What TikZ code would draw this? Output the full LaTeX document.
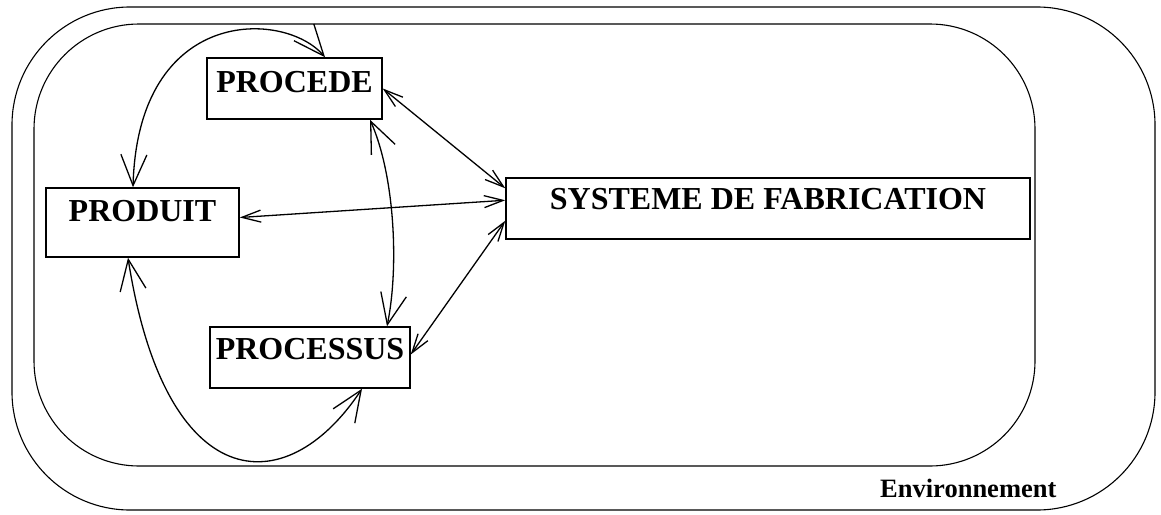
\documentclass[tikz,border=0pt]{standalone}
\usepackage{fontspec}
\setmainfont{Liberation Serif}
\usetikzlibrary{arrows.meta}
\begin{document}
\begin{tikzpicture}[x=1pt,y=-1pt,
  box/.style={draw,line width=1.5pt,inner xsep=0pt,inner ysep=0pt,align=center,
    font=\fontsize{32}{32}\selectfont\bfseries},
  bigtip/.style={{Straight Barb[length=31pt,width=26pt]}-{Straight Barb[length=31pt,width=26pt]},line width=1.3pt},
  smalltip/.style={{Straight Barb[length=19pt,width=12pt]}-{Straight Barb[length=19pt,width=12pt]},line width=1.3pt},
  frame/.style={draw,line width=1.1pt}]
\useasboundingbox (0,0) rectangle (1161,514);
% environment and system frames
\draw[frame,rounded corners=118pt] (12,7) rectangle (1155,510);
\draw[frame,rounded corners=105pt] (34,24) rectangle (1035,466);
% nodes
\node[box,minimum width=175pt,text height=34pt,text depth=27pt] (procede) at (294.5,88.5) {PROCEDE};
\node[box,minimum width=193pt,text height=33pt,text depth=36pt] (produit) at (142.5,222.5) {PRODUIT};
\node[box,minimum width=200pt,text height=32pt,text depth=29pt] (processus) at (310,357.5) {PROCESSUS};
\node[box,minimum width=524pt,text height=31pt,text depth=30pt] (systeme) at (768,208.5) {SYSTEME DE FABRICATION};
\node[anchor=base west,inner sep=0pt,font=\fontsize{26.5}{26.5}\selectfont\bfseries] (env) at (880,497) {Environnement};
% connectors
\draw[bigtip] ([xshift=-9.5pt]produit.north) .. controls (138,5) and (285,10) .. ([xshift=30.5pt]procede.north);
\draw[smalltip] (procede.east) -- ([yshift=-11pt]systeme.north west);
\draw[bigtip] ([xshift=75.5pt]procede.south) .. controls (395,176) and (399,268) .. ([xshift=77pt]processus.north);
\draw[smalltip] ([yshift=5pt]produit.east) -- ([yshift=-23pt]systeme.north west);
\draw[smalltip] ([yshift=19pt]systeme.south west) -- ([yshift=3pt]processus.east);
\draw[bigtip] ([xshift=-14.5pt]produit.south) .. controls (165,495) and (285,505) .. ([xshift=52pt]processus.south);
\end{tikzpicture}
\end{document}
